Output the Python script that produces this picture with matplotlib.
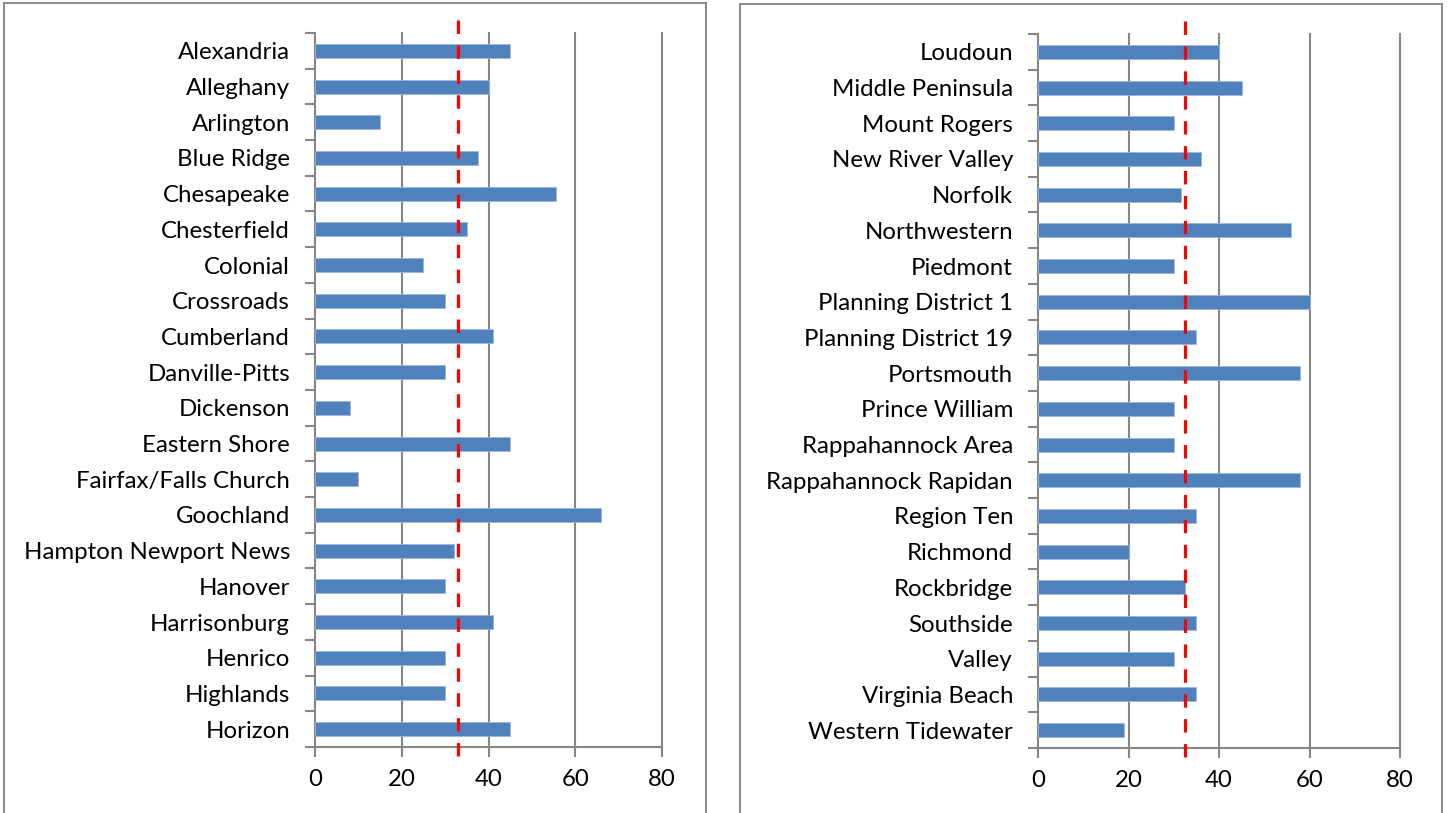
import matplotlib
matplotlib.use("Agg")
import matplotlib.pyplot as plt
from matplotlib.patches import Rectangle
import matplotlib.transforms as mtransforms

plt.rcParams['font.family'] = ['Lato', 'DejaVu Sans']

left_names = ["Alexandria", "Alleghany", "Arlington", "Blue Ridge", "Chesapeake",
              "Chesterfield", "Colonial", "Crossroads", "Cumberland", "Danville-Pitts",
              "Dickenson", "Eastern Shore", "Fairfax/Falls Church", "Goochland",
              "Hampton Newport News", "Hanover", "Harrisonburg", "Henrico",
              "Highlands", "Horizon"]
left_values = [45, 40, 15, 37.5, 55.5, 35, 25, 30, 41, 30,
               8, 45, 10, 66, 32, 30, 41, 30, 30, 45]
left_ref = 33

right_names = ["Loudoun", "Middle Peninsula", "Mount Rogers", "New River Valley",
               "Norfolk", "Northwestern", "Piedmont", "Planning District 1",
               "Planning District 19", "Portsmouth", "Prince William",
               "Rappahannock Area", "Rappahannock Rapidan", "Region Ten",
               "Richmond", "Rockbridge", "Southside", "Valley", "Virginia Beach",
               "Western Tidewater"]
right_values = [40, 45, 30, 36, 31.5, 56, 30, 60, 35, 58,
                30, 30, 58, 35, 20, 32.5, 35, 30, 35, 19]
right_ref = 32.5

x_ticks = [0, 20, 40, 60, 80]

W, H = 1448, 813
fig = plt.figure(figsize=(W / 100, H / 100), dpi=100)

# panel borders
for (x0, x1, y0) in [(4, 706, 3), (740, 1442, 4)]:
    fig.patches.append(Rectangle((x0 / W, -0.05), (x1 - x0) / W, (H - y0) / H + 0.05,
                                 transform=fig.transFigure, fill=False,
                                 edgecolor='#8c8c8c', linewidth=1.5))

GRAY = '#868686'
FS = 17.3

def panel(rect, names, values, ref):
    ax = fig.add_axes(rect)
    n = len(names)
    ypos = list(range(n))
    ax.barh(ypos, values, height=0.39, color='#4F81BD', edgecolor='#9db6d8',
            linewidth=0.6, zorder=3)
    ax.set_ylim(n - 0.5, -0.5)
    ax.set_xlim(0, 80)
    ax.set_xticks(x_ticks)
    ax.set_xticklabels([str(t) for t in x_ticks])
    ax.set_yticks(ypos)
    ax.set_yticklabels(names)
    ax.tick_params(axis='y', length=0, labelsize=FS, pad=18, labelcolor='#000000')
    # category boundary ticks
    ax.set_yticks([i - 0.5 for i in range(n + 1)], minor=True)
    ax.tick_params(axis='y', which='minor', length=7, width=1.5, color=GRAY, direction='out')
    ax.tick_params(axis='x', length=7, width=1.5, color=GRAY, direction='out',
                   labelsize=FS, pad=9)
    for t in x_ticks[1:]:
        ax.axvline(t, color=GRAY, linewidth=1.5, zorder=1, clip_on=False)
    for s in ['top', 'right']:
        ax.spines[s].set_visible(False)
    for s in ['left', 'bottom']:
        ax.spines[s].set_color(GRAY)
        ax.spines[s].set_linewidth(1.5)
    trans = mtransforms.blended_transform_factory(ax.transData, ax.transAxes)
    ax.plot([ref, ref], [1.018, -0.015], transform=trans, color='#FF0000',
            linewidth=2.3, dashes=(4.2, 3.6), clip_on=False, zorder=5)
    return ax

panel([315 / W, (H - 747) / H, (662 - 315) / W, (747 - 33) / H],
      left_names, left_values, left_ref)
panel([1038 / W, (H - 748) / H, (1400 - 1038) / W, (748 - 34) / H],
      right_names, right_values, right_ref)

fig.savefig('out.png', dpi=100)
